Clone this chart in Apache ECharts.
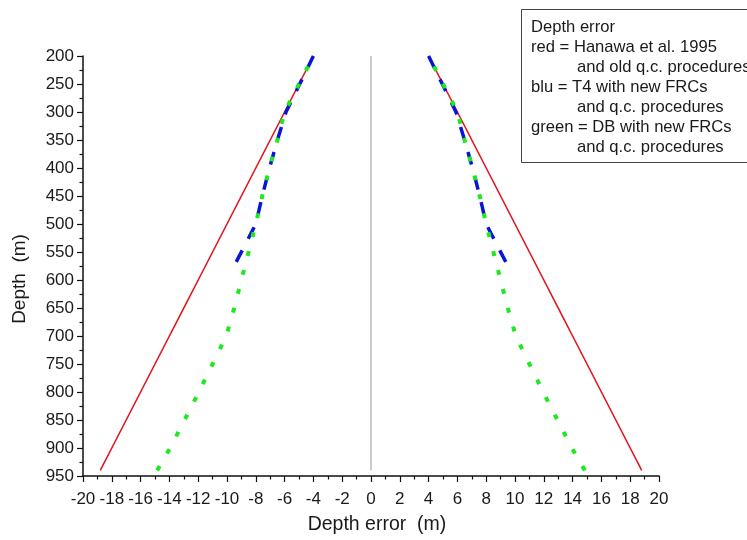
<!DOCTYPE html>
<html>
<head>
<meta charset="utf-8">
<script src="https://cdn.jsdelivr.net/npm/echarts@6/dist/echarts.min.js"></script>
<style>
html,body{margin:0;padding:0;background:#fff;}
#chart{width:747px;height:540px;}
</style>
</head>
<body>
<div id="chart"></div>
<script>
// Depth axis ticks
var depthMin = 200, depthMax = 950, depthStep = 50;
var errMin = -20, errMax = 20, errStep = 2;

// red = Hanawa et al. 1995 and old q.c. procedures
var redDepth = [200, 300, 400, 500, 600, 660, 700, 800, 900, 940];
var redLeft  = [-4.0, -6.0, -8.0, -10.0, -12.0, -13.2, -14.0, -16.0, -18.0, -18.8];
var redRight = [4.0, 6.0, 8.0, 10.0, 12.0, 13.2, 14.0, 16.0, 18.0, 18.8];

// blu = T4 with new FRCs and q.c. procedures
var bluDepth = [200, 250, 300, 350, 400, 450, 500, 540, 582];
var bluLeft  = [-4.0, -4.95, -5.9, -6.5, -7.05, -7.55, -8.0, -8.8, -9.65];
var bluRight = [4.0, 4.95, 5.9, 6.5, 7.05, 7.55, 8.0, 8.8, 9.65];

// green = DB with new FRCs and q.c. procedures
var grnDepth = [200, 250, 300, 350, 400, 450, 500, 550, 600, 650, 700, 750, 800, 850, 900, 940];
var grnLeft  = [-4.0, -5.0, -6.0, -6.5, -7.05, -7.55, -8.0, -8.5, -9.0, -9.5, -10.05, -11.0, -11.95, -12.95, -13.95, -14.85];
var grnRight = [4.0, 5.0, 6.0, 6.5, 7.05, 7.55, 8.0, 8.5, 9.0, 9.5, 10.05, 11.0, 11.95, 12.95, 13.95, 14.85];

// zero reference line
var zeroDepth = [200, 940];
var zeroVal = [0, 0];

var legendLines = [
  'Depth error',
  'red = Hanawa et al. 1995',
  'and old q.c. procedures',
  'blu = T4 with new FRCs',
  'and q.c. procedures',
  'green = DB with new FRCs',
  'and q.c. procedures'
];
var legendIndent = [false, false, true, false, true, false, true];

function pairs(xs, ds, rev) {
  var p = xs.map(function (x, i) { return [x, ds[i]]; });
  return rev ? p.reverse() : p;
}

var FONT = '"Liberation Sans", Arial, sans-serif';
var chart = echarts.init(document.getElementById('chart'), null, {renderer: 'canvas'});

var graphicEls = [{
  type: 'rect',
  shape: {x: 521.5, y: 9.5, width: 260, height: 153},
  style: {fill: '#fff', stroke: '#444', lineWidth: 1},
  z: 100
}];
legendLines.forEach(function (t, i) {
  graphicEls.push({
    type: 'text',
    x: legendIndent[i] ? 577 : 531,
    y: 27 + i * 20,
    style: {text: t, font: '16.6px ' + FONT, fill: '#1a1a1a', textVerticalAlign: 'middle'},
    z: 101
  });
});

var lineSeries = function (name, xs, ds, color, width, dash, z, rev) {
  return {
    name: name,
    type: 'line',
    data: pairs(xs, ds, rev),
    showSymbol: false,
    symbol: 'none',
    animation: false,
    z: z,
    lineStyle: {color: color, width: width, type: dash, cap: 'butt'}
  };
};

chart.setOption({
  animation: false,
  backgroundColor: '#fff',
  grid: {left: 83, right: 88, top: 56, bottom: 57, containLabel: false},
  xAxis: {
    type: 'value',
    min: errMin, max: errMax, interval: errStep,
    name: 'Depth error  (m)',
    nameLocation: 'middle',
    nameGap: 39,
    nameTextStyle: {fontFamily: FONT, fontSize: 19.5, color: '#1a1a1a', padding: [0, 0, 0, 12]},
    axisLine: {show: true, onZero: false, lineStyle: {color: '#111', width: 1.5}},
    axisTick: {show: true, inside: false, length: 6, lineStyle: {color: '#111', width: 1.2}},
    minorTick: {show: true, splitNumber: 2, length: 3.5, lineStyle: {color: '#111', width: 1.2}},
    axisLabel: {fontFamily: FONT, fontSize: 17, color: '#1a1a1a', margin: 15},
    splitLine: {show: false}
  },
  yAxis: {
    type: 'value',
    inverse: true,
    min: depthMin, max: depthMax, interval: depthStep,
    name: 'Depth  (m)',
    nameLocation: 'middle',
    nameRotate: 90,
    nameGap: 54,
    nameTextStyle: {fontFamily: FONT, fontSize: 19, color: '#1a1a1a', padding: [0, 26, 0, 0]},
    axisLine: {show: true, onZero: false, lineStyle: {color: '#111', width: 1.5}},
    axisTick: {show: true, inside: false, length: 6, lineStyle: {color: '#111', width: 1.2}},
    minorTick: {show: true, splitNumber: 2, length: 3.5, lineStyle: {color: '#111', width: 1.2}},
    axisLabel: {fontFamily: FONT, fontSize: 17, color: '#1a1a1a', margin: 9},
    splitLine: {show: false}
  },
  graphic: graphicEls,
  series: [
    lineSeries('zero', zeroVal, zeroDepth, '#9a9a9a', 1, 'solid', 1),
    lineSeries('red-left', redLeft, redDepth, '#e3141c', 1.6, 'solid', 2),
    lineSeries('red-right', redRight, redDepth, '#e3141c', 1.6, 'solid', 2),
    lineSeries('blu-left', bluLeft, bluDepth, '#0a14d8', 3.5, [13, 13], 3),
    lineSeries('blu-right', bluRight, bluDepth, '#0a14d8', 3.5, [13, 13], 3),
    lineSeries('green-left', grnLeft, grnDepth, '#1ee81e', 4, [5, 14.5], 4, true),
    lineSeries('green-right', grnRight, grnDepth, '#1ee81e', 4, [5, 14.5], 4, true)
  ]
});
</script>
</body>
</html>
